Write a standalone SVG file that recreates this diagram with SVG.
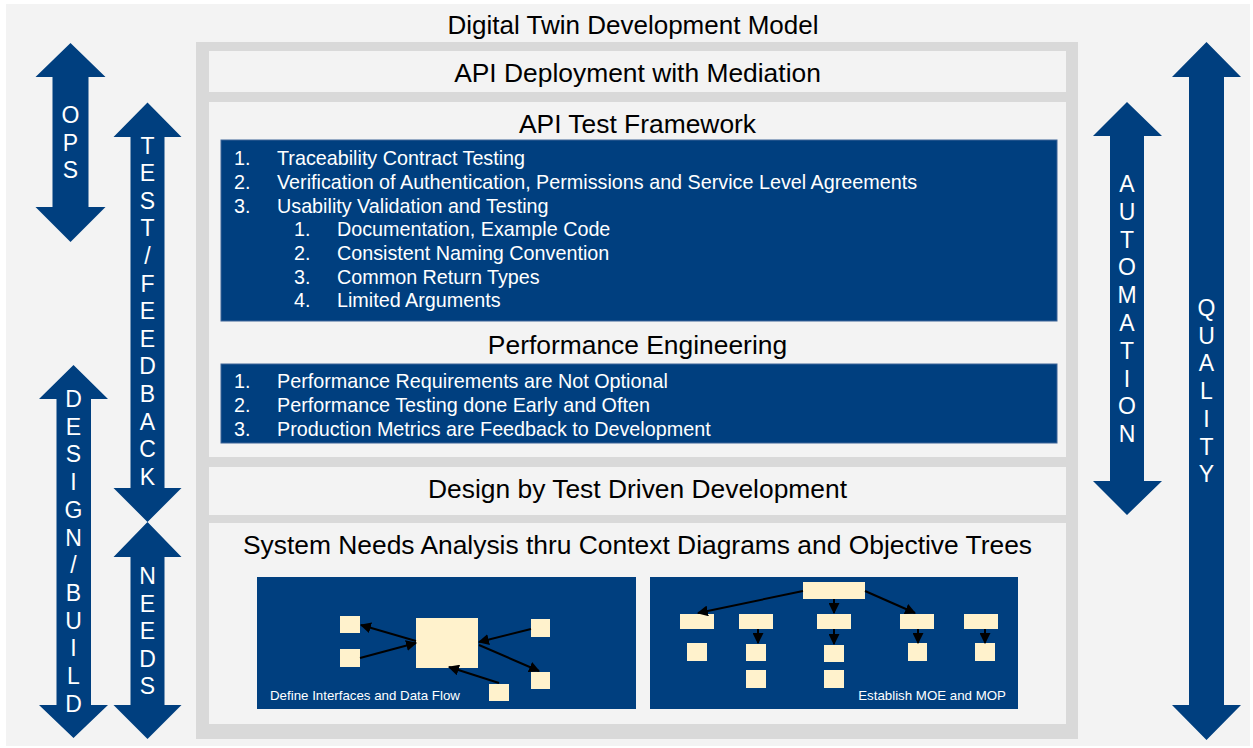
<svg xmlns="http://www.w3.org/2000/svg" width="1253" height="748" viewBox="0 0 1253 748">
<defs>
<style>
.t{font-family:"Liberation Sans",Arial,sans-serif}
.h{font-size:26.4px;fill:#000;text-anchor:middle}
.li{font-size:19.75px;fill:#fff}
.ar{fill:#003f7f}
.al{font-size:23px;fill:#fff;text-anchor:middle}
.panel{fill:#f3f3f3}
.blue{fill:#003f7f;stroke:#3d6598;stroke-width:1}
.cr{fill:#fff2cc}
.cn{stroke:#000;stroke-width:2;fill:none;marker-end:url(#ah)}
.dl{font-size:13.3px;fill:#fff}
</style>
<marker id="ah" viewBox="0 0 10 10" refX="9" refY="5" markerWidth="5.5" markerHeight="5.5" orient="auto" markerUnits="strokeWidth">
<path d="M0,0 L10,5 L0,10 z" fill="#000"/>
</marker>
</defs>
<rect x="0" y="0" width="1253" height="748" fill="#fff"/>
<rect x="6" y="4" width="1244" height="742" fill="#f3f3f3"/>
<text class="t h" x="633" y="34" style="font-size:26px">Digital Twin Development Model</text>
<rect x="196" y="42" width="882" height="697" fill="#d9d9d9"/>

<g id="api-deployment">
<rect class="panel" x="209" y="51" width="857" height="41"/>
<text class="t h" x="637.5" y="82">API Deployment with Mediation</text>
</g>

<g id="api-test-framework">
<rect class="panel" x="209" y="102" width="857" height="355"/>
<text class="t h" x="637.5" y="133">API Test Framework</text>
<rect class="blue" x="221" y="140" width="836" height="181"/>
<text class="t li">
<tspan x="234" y="165">1.</tspan><tspan x="277" y="165">Traceability Contract Testing</tspan>
<tspan x="234" y="189">2.</tspan><tspan x="277" y="189">Verification of Authentication, Permissions and Service Level Agreements</tspan>
<tspan x="234" y="213">3.</tspan><tspan x="277" y="213">Usability Validation and Testing</tspan>
<tspan x="294" y="236">1.</tspan><tspan x="337" y="236">Documentation, Example Code</tspan>
<tspan x="294" y="260">2.</tspan><tspan x="337" y="260">Consistent Naming Convention</tspan>
<tspan x="294" y="284">3.</tspan><tspan x="337" y="284">Common Return Types</tspan>
<tspan x="294" y="307">4.</tspan><tspan x="337" y="307">Limited Arguments</tspan>
</text>
<text class="t h" x="637.5" y="354">Performance Engineering</text>
<rect class="blue" x="221" y="364" width="836" height="79"/>
<text class="t li">
<tspan x="234" y="388">1.</tspan><tspan x="277" y="388">Performance Requirements are Not Optional</tspan>
<tspan x="234" y="412">2.</tspan><tspan x="277" y="412">Performance Testing done Early and Often</tspan>
<tspan x="234" y="436">3.</tspan><tspan x="277" y="436">Production Metrics are Feedback to Development</tspan>
</text>
</g>

<g id="design-tdd">
<rect class="panel" x="209" y="467" width="857" height="48"/>
<text class="t h" x="637.5" y="498">Design by Test Driven Development</text>
</g>

<g id="system-needs">
<rect class="panel" x="209" y="523" width="857" height="201"/>
<text class="t h" x="637.5" y="554">System Needs Analysis thru Context Diagrams and Objective Trees</text>
</g>

<g id="context-diagram">
<rect x="257" y="577" width="379" height="132" fill="#003f7f"/>
<rect class="cr" x="340" y="616" width="20" height="17"/>
<rect class="cr" x="340" y="649" width="20" height="18"/>
<rect class="cr" x="416" y="618" width="62" height="50"/>
<rect class="cr" x="531" y="619" width="19" height="18"/>
<rect class="cr" x="531" y="672" width="19" height="17"/>
<rect class="cr" x="489" y="684" width="20" height="17"/>
<text class="t dl" x="270" y="700">Define Interfaces and Data Flow</text>
</g>

<g id="objective-tree">
<rect x="650" y="577" width="368" height="132" fill="#003f7f"/>
<rect class="cr" x="803" y="582" width="62" height="17"/>
<rect class="cr" x="680" y="614" width="34" height="15"/>
<rect class="cr" x="739" y="614" width="34" height="15"/>
<rect class="cr" x="817" y="614" width="34" height="15"/>
<rect class="cr" x="900" y="614" width="34" height="15"/>
<rect class="cr" x="964" y="614" width="34" height="15"/>
<rect class="cr" x="687" y="643" width="20" height="18"/>
<rect class="cr" x="746" y="644" width="20" height="17"/>
<rect class="cr" x="824" y="645" width="20" height="17"/>
<rect class="cr" x="908" y="643" width="19" height="18"/>
<rect class="cr" x="975" y="643" width="20" height="18"/>
<rect class="cr" x="746" y="670" width="20" height="18"/>
<rect class="cr" x="824" y="670" width="20" height="18"/>
<text class="t dl" x="1006" y="700" text-anchor="end">Establish MOE and MOP</text>
</g>

<g id="connectors">
<line class="cn" x1="416" y1="641" x2="361" y2="625"/>
<line class="cn" x1="360" y1="658" x2="416" y2="643"/>
<line class="cn" x1="531" y1="629" x2="479" y2="642"/>
<line class="cn" x1="479" y1="645" x2="539" y2="671"/>
<line class="cn" x1="499" y1="683" x2="449" y2="667"/>
<line class="cn" x1="803" y1="591" x2="698" y2="613"/>
<line class="cn" x1="834" y1="599" x2="834" y2="613"/>
<line class="cn" x1="865" y1="591" x2="915" y2="613"/>
<line class="cn" x1="758" y1="629" x2="758" y2="643"/>
<line class="cn" x1="834" y1="629" x2="834" y2="644"/>
<line class="cn" x1="918" y1="629" x2="918" y2="643"/>
<line class="cn" x1="985" y1="629" x2="985" y2="643"/>
</g>

<g id="arrow-ops">
<polygon class="ar" points="70.5,43 105.5,77 88.5,77 88.5,207 105.5,207 70.5,242 35.5,207 52.5,207 52.5,77 35.5,77"/>
<text class="t al"><tspan x="70.5" y="123">O</tspan><tspan x="70.5" dy="27.6">P</tspan><tspan x="70.5" dy="27.6">S</tspan></text>
</g>

<g id="arrow-test-feedback">
<polygon class="ar" points="147.5,102.5 181.5,137 164.5,137 164.5,488 181.5,488 147.5,522 113.5,488 130.5,488 130.5,137 113.5,137"/>
<text class="t al"><tspan x="147.5" y="153.5">T</tspan><tspan x="147.5" dy="27.6">E</tspan><tspan x="147.5" dy="27.6">S</tspan><tspan x="147.5" dy="27.6">T</tspan><tspan x="147.5" dy="27.6">/</tspan><tspan x="147.5" dy="27.6">F</tspan><tspan x="147.5" dy="27.6">E</tspan><tspan x="147.5" dy="27.6">E</tspan><tspan x="147.5" dy="27.6">D</tspan><tspan x="147.5" dy="27.6">B</tspan><tspan x="147.5" dy="27.6">A</tspan><tspan x="147.5" dy="27.6">C</tspan><tspan x="147.5" dy="27.6">K</tspan></text>
</g>

<g id="arrow-needs">
<polygon class="ar" points="147.5,522 181.5,557 164.5,557 164.5,705 181.5,705 147.5,739 113.5,705 130.5,705 130.5,557 113.5,557"/>
<text class="t al"><tspan x="147.5" y="584">N</tspan><tspan x="147.5" dy="27.6">E</tspan><tspan x="147.5" dy="27.6">E</tspan><tspan x="147.5" dy="27.6">D</tspan><tspan x="147.5" dy="27.6">S</tspan></text>
</g>

<g id="arrow-design-build">
<polygon class="ar" points="73.5,365 108,399 91,399 91,705 108,705 73.5,738 39,705 56.5,705 56.5,399 39,399"/>
<text class="t al"><tspan x="73.5" y="407">D</tspan><tspan x="73.5" dy="27.7">E</tspan><tspan x="73.5" dy="27.7">S</tspan><tspan x="73.5" dy="27.7">I</tspan><tspan x="73.5" dy="27.7">G</tspan><tspan x="73.5" dy="27.7">N</tspan><tspan x="73.5" dy="27.7">/</tspan><tspan x="73.5" dy="27.7">B</tspan><tspan x="73.5" dy="27.7">U</tspan><tspan x="73.5" dy="27.7">I</tspan><tspan x="73.5" dy="27.7">L</tspan><tspan x="73.5" dy="27.7">D</tspan></text>
</g>

<g id="arrow-automation">
<polygon class="ar" points="1127,102 1162,136 1144,136 1144,481 1162,481 1127,515 1093,481 1110,481 1110,136 1093,136"/>
<text class="t al"><tspan x="1127" y="192">A</tspan><tspan x="1127" dy="27.8">U</tspan><tspan x="1127" dy="27.8">T</tspan><tspan x="1127" dy="27.8">O</tspan><tspan x="1127" dy="27.8">M</tspan><tspan x="1127" dy="27.8">A</tspan><tspan x="1127" dy="27.8">T</tspan><tspan x="1127" dy="27.8">I</tspan><tspan x="1127" dy="27.8">O</tspan><tspan x="1127" dy="27.8">N</tspan></text>
</g>

<g id="arrow-quality">
<polygon class="ar" points="1206.5,42 1241,77 1224,77 1224,705 1241,705 1206.5,740 1172,705 1189,705 1189,77 1172,77"/>
<text class="t al"><tspan x="1206.5" y="316">Q</tspan><tspan x="1206.5" dy="27.7">U</tspan><tspan x="1206.5" dy="27.7">A</tspan><tspan x="1206.5" dy="27.7">L</tspan><tspan x="1206.5" dy="27.7">I</tspan><tspan x="1206.5" dy="27.7">T</tspan><tspan x="1206.5" dy="27.7">Y</tspan></text>
</g>
</svg>
